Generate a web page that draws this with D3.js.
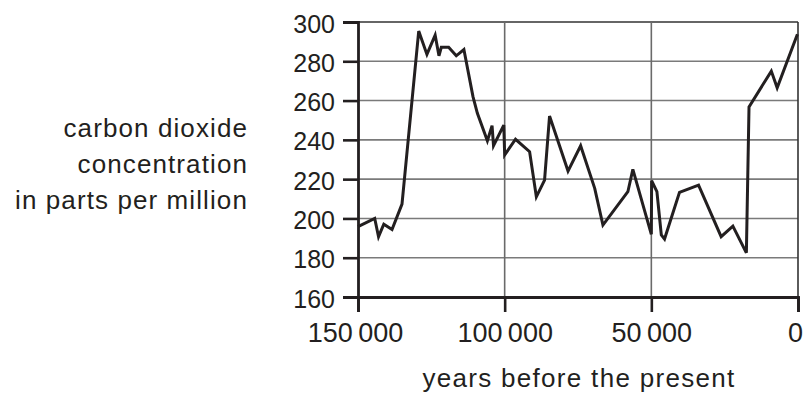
<!DOCTYPE html>
<html>
<head>
<meta charset="utf-8">
<script src="https://cdn.jsdelivr.net/npm/d3@7"></script>
<style>
  body { margin: 0; background: #fff; }
  svg text { font-family: "Liberation Sans", Arial, Helvetica, sans-serif; fill: #231f20; }
</style>
</head>
<body>
<div id="chart"></div>
<script>
// years before present
const years = [150000, 144300, 143000, 141200, 138400, 135000, 129300, 126500, 123700, 122400,
  121600, 119100, 116500, 113900, 110800, 109300, 105900, 104300, 103800, 100300,
  100000, 96300, 91500, 89200, 86400, 84700, 78400, 74100, 69300, 66500,
  58000, 56300, 50000, 49900, 48100, 46600, 45500, 40400, 33900, 26200,
  22200, 17600, 16700, 9100, 7100, 200];
// CO2 in ppm
const co2 = [195.8, 200, 190.7, 197.1, 194.4, 207.3, 295.4, 283.5, 293.3, 282.8,
  287.1, 287.1, 282.8, 286, 262, 253.5, 239.5, 247.2, 237, 247.5,
  232.3, 240.3, 234, 211, 219.5, 252.1, 224.1, 237, 215.3, 196.6,
  213.6, 225, 191.9, 219.2, 213.6, 191.6, 189.5, 213.3, 217, 190.7,
  196.1, 182.5, 256.8, 275, 266.5, 293.8];

const yTicks = [160, 180, 200, 220, 240, 260, 280, 300];
const xTicks = [150000, 100000, 50000, 0];
const yLabelLines = ["carbon dioxide", "concentration", "in parts per million"];
const xLabel = "years before the present";

const width = 807, height = 401;
const margin = { left: 358, right: 9, top: 22, bottom: 104 };

const svg = d3.select("#chart").append("svg")
  .attr("width", width)
  .attr("height", height);

const x = d3.scaleLinear().domain([150000, 0]).range([margin.left, width - margin.right]);
const y = d3.scaleLinear().domain([160, 300]).range([height - margin.bottom, margin.top]);

// grid
svg.append("g")
  .selectAll("line")
  .data(yTicks.filter(d => d > 160))
  .join("line")
  .attr("x1", x(150000)).attr("x2", x(0))
  .attr("y1", d => y(d)).attr("y2", d => y(d))
  .attr("stroke", d => d === 300 ? "#333" : "#7a7a7a")
  .attr("stroke-width", 1.6);

svg.append("g")
  .selectAll("line")
  .data(xTicks.filter(d => d < 150000))
  .join("line")
  .attr("x1", d => x(d)).attr("x2", d => x(d))
  .attr("y1", y(160)).attr("y2", y(300))
  .attr("stroke", d => d === 0 ? "#333" : "#6a6a6a")
  .attr("stroke-width", 1.6);

// axes
const yAxis = svg.append("g")
  .attr("transform", `translate(${x(150000)},0)`)
  .call(d3.axisLeft(y).tickValues(yTicks).tickSize(15).tickPadding(8));

const fmt = d => d === 0 ? "0" : d3.format(",")(d).replace(",", "\u2009");
const xAxis = svg.append("g")
  .attr("transform", `translate(0,${y(160)})`)
  .call(d3.axisBottom(x).tickValues(xTicks).tickSize(15).tickPadding(8).tickFormat(fmt));

[yAxis, xAxis].forEach(g => {
  g.select(".domain").attr("stroke", "#231f20").attr("stroke-width", 2.8);
  g.selectAll(".tick line").attr("stroke", "#231f20").attr("stroke-width", 2.6);
  g.selectAll("text").attr("fill", "#231f20");
});
yAxis.selectAll("text").attr("dy", "0.4em").style("font-size", "25px");
xAxis.selectAll("text").attr("dy", "0.8em").style("font-size", "27px")
  .attr("dx", d => d === 0 ? -3 : d === 150000 ? -3 : 0);

// the series line
svg.append("path")
  .datum(years.map((d, i) => [d, co2[i]]))
  .attr("fill", "none")
  .attr("stroke", "#231f20")
  .attr("stroke-width", 3)
  .attr("stroke-linejoin", "miter")
  .attr("d", d3.line().x(d => x(d[0])).y(d => y(d[1])));

// labels
svg.append("g")
  .selectAll("text")
  .data(yLabelLines)
  .join("text")
  .attr("x", 248)
  .attr("y", (d, i) => 136.5 + i * 36)
  .attr("text-anchor", "end")
  .style("font-size", "26px")
  .style("letter-spacing", "1.1px")
  .text(d => d);

svg.append("text")
  .attr("x", 579)
  .attr("y", 387)
  .attr("text-anchor", "middle")
  .style("font-size", "26px")
  .style("letter-spacing", "1.3px")
  .text(xLabel);
</script>
</body>
</html>
